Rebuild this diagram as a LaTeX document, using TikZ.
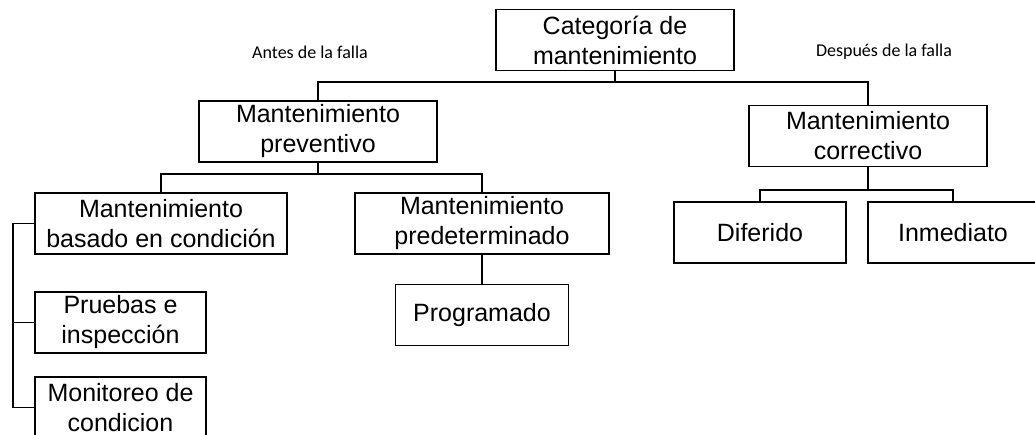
\documentclass[tikz,border=0pt]{standalone}
\usepackage{fontspec}
\setmainfont{Liberation Sans}
\newfontfamily\labelfont{Carlito}
\begin{document}
\begin{tikzpicture}[x=0.75pt,y=-0.75pt,
  box/.style={draw, line width=1pt, minimum height=45.75pt, inner sep=0pt,
    align=center, font=\fontsize{18.75}{22.5}\selectfont},
  lbl/.style={inner sep=0pt, font=\labelfont\fontsize{13.5}{16}\selectfont},
  conn/.style={line width=1pt}]
\clip (0,0) rectangle (1035,435);
\fill[white] (0,0) rectangle (1035,435);
% nodes
\node[box, minimum width=178.5pt] (top) at (615,40) {Categoría de\\mantenimiento};
\node[box, minimum width=178.5pt] (prev) at (318,131.5) {Mantenimiento\\preventivo};
\node[box, minimum width=178.5pt] (corr) at (868,136) {Mantenimiento\\correctivo};
\node[box, minimum width=189pt] (basado) at (161,223.5) {Mantenimiento\\basado en condición};
\node[box, minimum width=190.5pt] (predet) at (482,223.5) {Mantenimiento\\predeterminado};
\node[box, minimum width=129.75pt] (prog) at (482,315) {Programado};
\node[box, minimum width=128.25pt] (pruebas) at (120.5,322.5) {Pruebas e\\inspección};
\node[box, minimum width=128.25pt] (monit) at (120.5,407.5) {Monitoreo de\\condicion};
\node[box, minimum width=129pt] (dif) at (760,232.5) {Diferido};
\node[box, minimum width=127.5pt] (inm) at (953,232.5) {Inmediato};
\node[lbl] (antes) at (310,52) {Antes de la falla};
\node[lbl] (despues) at (884,52) {Después de la falla};
% junctions
\coordinate (j1) at (615,82);
\coordinate (j2) at (318,174);
\coordinate (j3) at (868,190);
\coordinate (b1) at (13,223);
% connectors
\draw[conn] (top.south) -- (j1);
\draw[conn] (prev.north) |- (j1) -| (corr.north);
\draw[conn] (prev.south) -- (j2);
\draw[conn] (basado.north) |- (j2) -| (predet.north);
\draw[conn] (predet.south) -- (prog.north);
\draw[conn] (corr.south) -- (j3);
\draw[conn] (dif.north) |- (j3) -| (inm.north);
\draw[conn] (basado.west) -- (basado.west -| b1) |- (monit.west);
\draw[conn] (pruebas.west) -- (pruebas.west -| b1);
\end{tikzpicture}
\end{document}
